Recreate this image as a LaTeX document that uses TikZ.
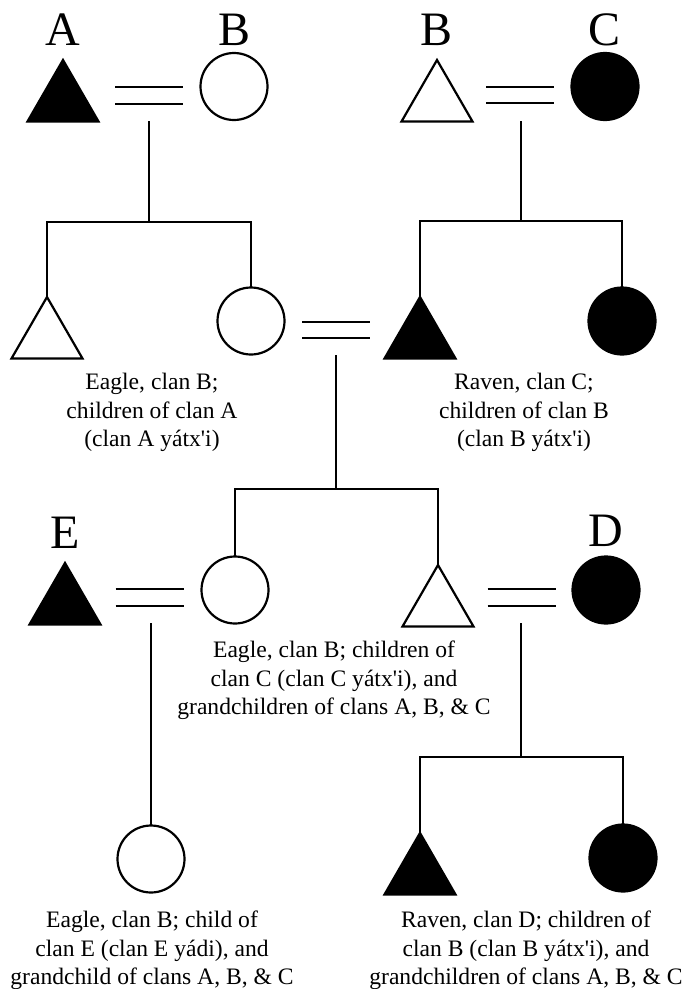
\documentclass[tikz,border=0pt]{standalone}
\usepackage{fontspec}
\setmainfont{Liberation Serif}
\usetikzlibrary{shapes.geometric}
\tikzset{
  person/.style={inner sep=0pt, outer sep=0pt, line width=2.2pt},
  male/.style={person, regular polygon, regular polygon sides=3, minimum size=82pt, draw=black},
  female/.style={person, circle, minimum size=67pt, draw=black},
  dark/.style={fill=black},
  light/.style={fill=white},
  marr/.style={rectangle, draw=none, inner sep=0pt, outer sep=0pt, minimum width=68pt, minimum height=16.5pt},
  clanlab/.style={font=\fontsize{48}{50}\selectfont, inner sep=0pt, anchor=base},
  note/.style={font=\fontsize{23.6}{28.5}\selectfont, align=center, inner sep=0pt, anchor=north},
  link/.style={line width=2.2pt}
}
\newcommand{\marrlines}[1]{\draw[link] (#1.north west) -- (#1.north east) (#1.south west) -- (#1.south east);}
\begin{document}
\begin{tikzpicture}[x=1pt,y=-1pt]
\useasboundingbox (0,0) rectangle (686,989);
% ---------- row 1 ----------
\node[clanlab] (lA) at (63,45) {A};
\node[clanlab] (lB1) at (235,45) {B};
\node[clanlab] (lB2) at (437,45) {B};
\node[clanlab] (lC) at (605,45) {C};
\node[male,dark] (a) at (63,101) {};
\node[female,light] (b) at (234,86.5) {};
\node[marr] (m1) at (149,95.5) {};
\marrlines{m1}
\node[male,light] (b2) at (437,101) {};
\node[female,dark] (c) at (605,86.5) {};
\node[marr] (m2) at (520,95) {};
\marrlines{m2}
\coordinate (s1) at (149,121);
\coordinate (s2) at (521,121);
\coordinate (j1) at (149,222);
\coordinate (j2) at (521,221);
% ---------- row 2 ----------
\node[male,light] (k1) at (47,338) {};
\node[female,light] (k2) at (251,321) {};
\node[marr] (m3) at (336,330) {};
\marrlines{m3}
\node[male,dark] (k3) at (420,338) {};
\node[female,dark] (k4) at (622,321) {};
\draw[link] (s1) -- (j1);
\draw[link] (k1.north) |- (j1) -| (k2.north);
\draw[link] (s2) -- (j2);
\draw[link] (k3.north) |- (j2) -| (k4.north);
\node[note] (t1) at (152,373) {Eagle, clan B;\\children of clan A\\(clan A yátx\textquotesingle i)};
\node[note] (t2) at (524,373) {Raven, clan C;\\children of clan B\\(clan B yátx\textquotesingle i)};
\coordinate (s3) at (336,355);
\coordinate (j3) at (336,489);
% ---------- row 3 ----------
\node[clanlab] (lE) at (65,548) {E};
\node[clanlab] (lD) at (606,546) {D};
\node[male,dark] (e) at (65,604) {};
\node[marr] (m4) at (149.5,597.5) {};
\marrlines{m4}
\node[female,light] (g1) at (235,590) {};
\node[male,light] (g2) at (438,606) {};
\node[marr] (m5) at (521.5,597.5) {};
\marrlines{m5}
\node[female,dark] (d) at (606,590) {};
\draw[link] (s3) -- (j3);
\draw[link] (g1.north) |- (j3) -| (g2.north);
\node[note] (t3) at (334,641) {Eagle, clan B; children of\\clan C (clan C yátx\textquotesingle i), and\\grandchildren of clans A, B, \& C};
\coordinate (s4) at (151,623);
\coordinate (s5) at (521,623);
\coordinate (j4) at (521,757);
% ---------- row 4 ----------
\node[female,light] (h1) at (151,859) {};
\node[male,dark] (h2) at (420,874) {};
\node[female,dark] (h3) at (623,858) {};
\draw[link] (s4) -- (h1.north);
\draw[link] (s5) -- (j4);
\draw[link] (h2.north) |- (j4) -| (h3.north);
\node[note] (t4) at (152,911) {Eagle, clan B; child of\\clan E (clan E yádi), and\\grandchild of clans A, B, \& C};
\node[note] (t5) at (526,911) {Raven, clan D; children of\\clan B (clan B yátx\textquotesingle i), and\\grandchildren of clans A, B, \& C};
\end{tikzpicture}
\end{document}
